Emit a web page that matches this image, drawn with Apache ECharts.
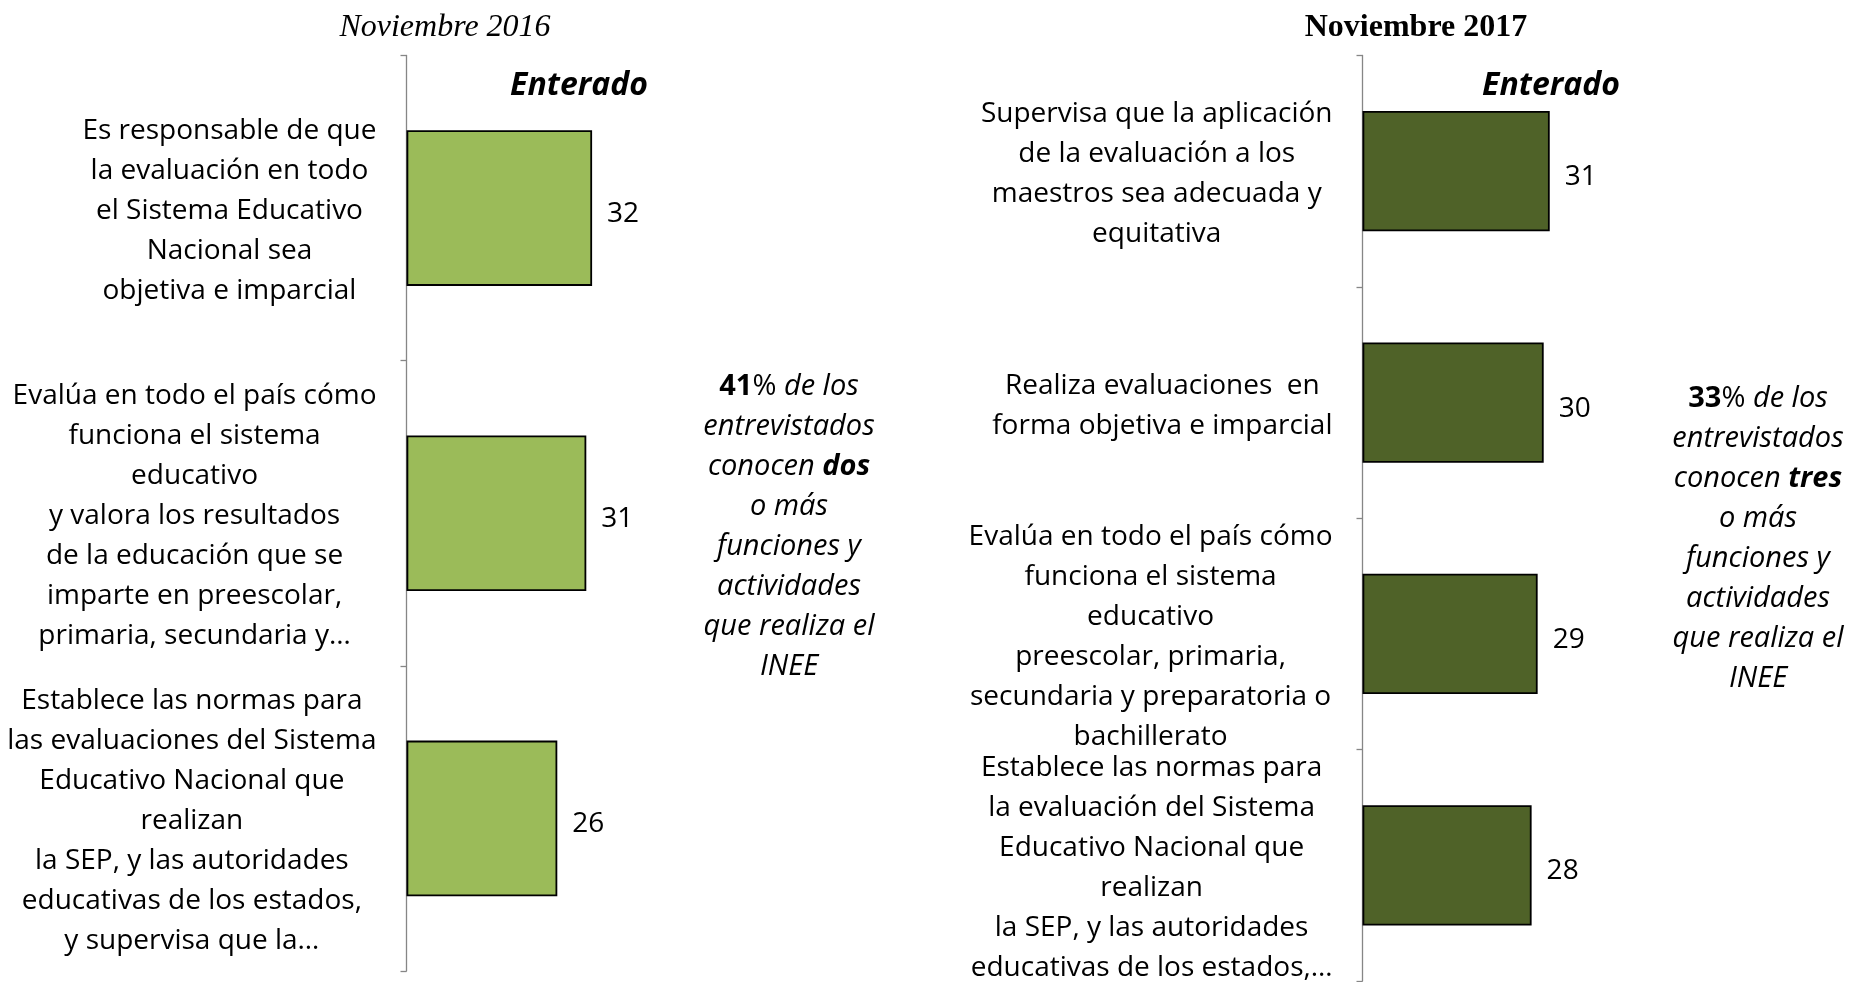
<!DOCTYPE html>
<html>
<head>
<meta charset="utf-8">
<script src="https://cdn.jsdelivr.net/npm/echarts@6/dist/echarts.min.js"></script>
<style>html,body{margin:0;padding:0;background:#fff}#c{width:1853px;height:982px}</style>
</head>
<body>
<div id="c"></div>
<script>
const categories2016 = [
  "Es responsable de que\nla evaluación en todo\nel Sistema Educativo\nNacional sea\nobjetiva e imparcial",
  "Evalúa en todo el país cómo\nfunciona el sistema\neducativo\ny valora los resultados\nde la educación que se\nimparte en preescolar,\nprimaria, secundaria y…",
  "Establece las normas para\nlas evaluaciones del Sistema\nEducativo Nacional que\nrealizan\nla SEP, y las autoridades\neducativas de los estados,\ny supervisa que la…"
];
const values2016 = [32, 31, 26];

const categories2017 = [
  "Supervisa que la aplicación\nde la evaluación a los\nmaestros sea adecuada y\nequitativa",
  "Realiza evaluaciones  en\nforma objetiva e imparcial",
  "Evalúa en todo el país cómo\nfunciona el sistema\neducativo\npreescolar, primaria,\nsecundaria y preparatoria o\nbachillerato",
  "Establece las normas para\nla evaluación del Sistema\nEducativo Nacional que\nrealizan\nla SEP, y las autoridades\neducativas de los estados,…"
];
const values2017 = [31, 30, 29, 28];

const seriesName = "Enterado";
const titles = ["Noviembre 2016", "Noviembre 2017"];

const FONT = "'Open Sans', 'Noto Sans', sans-serif";
const SERIF = "'Liberation Serif', 'DejaVu Serif', serif";

function centeredLines(v) {
  return v.split('\n').map(l => '{c|' + l + '}').join('\n');
}
const richC = { c: { align: 'center', fontSize: 28, lineHeight: 40, fontFamily: FONT, color: '#000' } };

function yAxisCfg(gridIndex, cats) {
  return {
    type: 'category', gridIndex: gridIndex, data: cats, inverse: true,
    axisLine: { show: true, lineStyle: { color: '#868686', width: 1.3 } },
    axisTick: { show: true, length: 6, lineStyle: { color: '#868686', width: 1.3 } },
    axisLabel: { interval: 0, margin: 30, align: 'right', padding: [6, 0, 0, 0], formatter: centeredLines, rich: richC },
    splitLine: { show: false }
  };
}
function xAxisCfg(gridIndex) {
  return { type: 'value', gridIndex: gridIndex, min: 0, max: 50, show: false, splitLine: { show: false } };
}

const annRich = {
  b: { align: 'center', fontFamily: FONT, fontWeight: 'bold', fontSize: 29, lineHeight: 40, fill: '#000' },
  n: { align: 'center', fontFamily: FONT, fontSize: 29, lineHeight: 40, fill: '#000' },
  i: { align: 'center', fontFamily: FONT, fontStyle: 'italic', fontSize: 29, lineHeight: 40, fill: '#000' },
  bi: { align: 'center', fontFamily: FONT, fontStyle: 'italic', fontWeight: 'bold', fontSize: 29, lineHeight: 40, fill: '#000' }
};

const chart = echarts.init(document.getElementById('c'));
chart.setOption({
  animation: false,
  backgroundColor: '#fff',
  grid: [
    { left: 406.5, top: 55.5, width: 290, height: 915.5 },
    { left: 1362.5, top: 55.5, width: 302, height: 928 }
  ],
  xAxis: [xAxisCfg(0), xAxisCfg(1)],
  yAxis: [yAxisCfg(0, categories2016), yAxisCfg(1, categories2017)],
  series: [
    {
      name: seriesName, type: 'bar', xAxisIndex: 0, yAxisIndex: 0, data: values2016,
      barWidth: '51%',
      itemStyle: { color: '#9BBB59', borderColor: '#000', borderWidth: 1.8 },
      label: { show: true, position: 'right', distance: 15, offset: [0, 6], fontSize: 28, fontFamily: FONT, color: '#000' }
    },
    {
      name: seriesName, type: 'bar', xAxisIndex: 1, yAxisIndex: 1, data: values2017,
      barWidth: '52%',
      itemStyle: { color: '#4F6228', borderColor: '#000', borderWidth: 1.8 },
      label: { show: true, position: 'right', distance: 15, offset: [0, 6], fontSize: 28, fontFamily: FONT, color: '#000' }
    }
  ],
  graphic: [
    { type: 'text', x: 445, y: 27.5, style: { text: titles[0], align: 'center', verticalAlign: 'middle', fontFamily: SERIF, fontStyle: 'italic', fontSize: 32, fill: '#000' } },
    { type: 'text', x: 1416, y: 27.5, style: { text: titles[1], align: 'center', verticalAlign: 'middle', fontFamily: SERIF, fontWeight: 'bold', fontSize: 32, fill: '#000' } },
    { type: 'text', x: 579, y: 85.5, style: { text: seriesName, align: 'center', verticalAlign: 'middle', fontFamily: FONT, fontStyle: 'italic', fontWeight: 'bold', fontSize: 32, fill: '#000' } },
    { type: 'text', x: 1551, y: 85.5, style: { text: seriesName, align: 'center', verticalAlign: 'middle', fontFamily: FONT, fontStyle: 'italic', fontWeight: 'bold', fontSize: 32, fill: '#000' } },
    { type: 'text', x: 789, y: 527, style: {
      text: '{b|41}{n|%}{i| de los}\n{i|entrevistados}\n{i|conocen }{bi|dos}\n{i|o más}\n{i|funciones y}\n{i|actividades}\n{i|que realiza el}\n{i|INEE}',
      align: 'center', verticalAlign: 'middle', rich: annRich
    } },
    { type: 'text', x: 1758, y: 539, style: {
      text: '{b|33}{n|%}{i| de los}\n{i|entrevistados}\n{i|conocen }{bi|tres}\n{i|o más}\n{i|funciones y}\n{i|actividades}\n{i|que realiza el}\n{i|INEE}',
      align: 'center', verticalAlign: 'middle', rich: annRich
    } }
  ]
});
</script>
</body>
</html>
